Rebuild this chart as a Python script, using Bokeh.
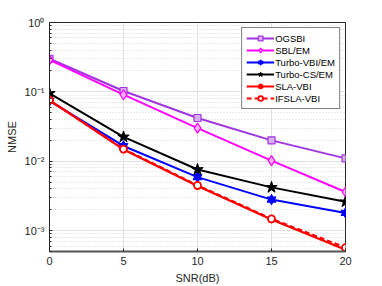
from bokeh.plotting import figure
from bokeh.models import LogTicker, FixedTicker, CustomJSTickFormatter, Legend, LegendItem, Range1d
from bokeh.embed import file_html
from bokeh.resources import INLINE

snr = [0, 5, 10, 15, 20]
ogsbi = [0.30, 0.103, 0.042, 0.020, 0.011]
sbl_em = [0.29, 0.091, 0.030, 0.0102, 0.0036]
turbo_vbi = [0.074, 0.0166, 0.0059, 0.0028, 0.0018]
turbo_cs = [0.095, 0.0224, 0.0076, 0.0042, 0.0026]
sla_vbi = [0.076, 0.0148, 0.0044, 0.00145, 0.00053]
ifsla_vbi = [0.076, 0.0150, 0.0045, 0.00148, 0.00057]
names = ["OGSBI", "SBL/EM", "Turbo-VBI/EM", "Turbo-CS/EM", "SLA-VBI", "IFSLA-VBI"]
x_ticks = [0, 5, 10, 15, 20]

FONT = "Liberation Sans"
TXT = "#262626"

p = figure(width=366, height=282, y_axis_type="log", output_backend="svg",
           toolbar_location=None, x_range=Range1d(0, 20), y_range=Range1d(5e-4, 1.0),
           min_border_left=49, min_border_right=21, min_border_top=22, min_border_bottom=20)
p.frame_width = 296
p.frame_height = 229

p.background_fill_color = "white"
p.outline_line_color = "#262626"
p.outline_line_width = 1

p.xaxis.ticker = FixedTicker(ticks=x_ticks)
p.yaxis.ticker = LogTicker(num_minor_ticks=10, desired_num_ticks=4)
p.yaxis.formatter = CustomJSTickFormatter(code="""
const sup = {'-':'\u207b','0':'\u2070','1':'\u00b9','2':'\u00b2','3':'\u00b3','4':'\u2074'};
const e = Math.round(Math.log10(tick));
return '10' + String(e).split('').map(c => sup[c]).join('');
""")
for ax in [p.xaxis[0], p.yaxis[0]]:
    ax.major_label_text_font = FONT
    ax.major_label_text_font_size = "11px"
    ax.major_label_text_color = TXT
    ax.axis_label_text_font = FONT
    ax.axis_label_text_font_size = "11px"
    ax.axis_label_text_font_style = "normal"
    ax.axis_label_text_color = TXT
    ax.axis_line_color = TXT
    ax.major_tick_line_color = TXT
    ax.minor_tick_line_color = TXT
    ax.major_tick_in = 3
    ax.major_tick_out = 0
    ax.minor_tick_in = 2
    ax.minor_tick_out = 0
    ax.axis_label_standoff = 4
    ax.major_label_standoff = 5
p.xaxis.axis_label = "SNR(dB)"
p.yaxis.axis_label = "NMSE"
p.xaxis.minor_tick_line_color = None
p.xaxis.axis_line_color = "#555555"
p.xaxis.axis_line_width = 2

p.xgrid.grid_line_color = "#e0e0e0"
p.ygrid.grid_line_color = "#e0e0e0"
p.ygrid.minor_grid_line_color = "#d8d8d8"
p.ygrid.minor_grid_line_dash = "1 2"

items = []
# OGSBI
c = "#A035E0"
r1 = p.line(snr, ogsbi, line_color=c, line_width=2)
r2 = p.scatter(snr, ogsbi, marker="square", size=7, line_color=c, fill_color="#D8B0F0", line_width=1.2)
items.append(LegendItem(label=names[0], renderers=[r1, r2]))
# SBL/EM
c = "#FF00FF"
r1 = p.line(snr, sbl_em, line_color=c, line_width=2)
r2 = p.scatter(snr, sbl_em, marker="diamond", size=10, line_color=c, fill_color="#FFB0FF", line_width=1.2)
items.append(LegendItem(label=names[1], renderers=[r1, r2]))
# Turbo-VBI/EM
c = "#0000FF"
r1 = p.line(snr, turbo_vbi, line_color=c, line_width=2)
r2 = p.scatter(snr, turbo_vbi, marker="triangle", size=9, line_color=c, fill_color=c)
r3 = p.scatter(snr, turbo_vbi, marker="inverted_triangle", size=9, line_color=c, fill_color=c)
items.append(LegendItem(label=names[2], renderers=[r1, r2, r3]))
# Turbo-CS/EM
c = "black"
r1 = p.line(snr, turbo_cs, line_color=c, line_width=2)
r2 = p.scatter(snr, turbo_cs, marker="star", size=12, line_color=c, fill_color=c)
items.append(LegendItem(label=names[3], renderers=[r1, r2]))
# SLA-VBI
c = "#FF0000"
r1 = p.line(snr, sla_vbi, line_color=c, line_width=2.2)
r2 = p.scatter(snr, sla_vbi, marker="circle", size=7, line_color=c, fill_color=c)
items.append(LegendItem(label=names[4], renderers=[r1, r2]))
# IFSLA-VBI
r1 = p.line(snr, ifsla_vbi, line_color=c, line_width=2.2, line_dash="5 3")
r2 = p.scatter(snr, ifsla_vbi, marker="circle", size=7, line_color=c, fill_color="white", line_width=1.8)
items.append(LegendItem(label=names[5], renderers=[r1, r2]))

legend = Legend(items=items, location="top_right")
legend.margin = 5
legend.padding = 4
legend.spacing = 0
legend.label_text_font = FONT
legend.label_text_font_size = "9.5px"
legend.label_text_color = "black"
legend.label_height = 12
legend.glyph_height = 12
legend.glyph_width = 28
legend.label_standoff = 1
legend.border_line_color = "black"
legend.border_line_width = 1
legend.background_fill_alpha = 1
p.add_layout(legend, "center")

open("out.html", "w").write(file_html(p, INLINE))
